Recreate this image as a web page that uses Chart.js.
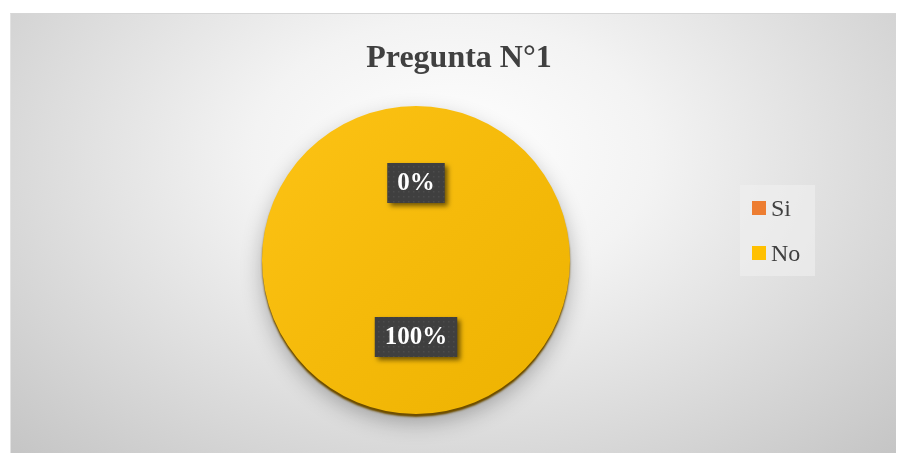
<!DOCTYPE html>
<html lang="es">
<head>
  <meta charset="UTF-8">
  <title>Pregunta N°1</title>
  <script src="https://cdn.jsdelivr.net/npm/chart.js"></script>
  <style>
    body {
      margin: 0;
      background-color: #ffffff;
      width: 897px;
      height: 453px;
      overflow: hidden;
      position: relative;
    }
    .chart-box {
      position: absolute;
      left: 10px;
      top: 13px;
      width: 886px;
      height: 440px;
      border-top: 1px solid #d6d6d6;
      border-left: 1px solid #e2e2e2;
      box-sizing: border-box;
      background: radial-gradient(ellipse at 50% 32%, #ffffff 0%, #f3f3f3 32%, #c5c5c5 100%);
    }
    canvas {
      position: absolute;
      left: 0;
      top: 0;
    }
  </style>
</head>
<body>
  <div class="chart-box">
    <canvas id="pieChart" width="886" height="440"></canvas>
  </div>

  <script>
    const TITLE = 'Pregunta N°1';
    const categories = ['Si', 'No'];
    const values = [0, 100];
    const colors = ['#ED7D31', '#FFC000'];

    const textColor = '#404040';
    const serif = "'Liberation Serif', 'Times New Roman', serif";

    // dotted dark fill used behind the data labels
    function makeDotPattern(ctx) {
      const c = document.createElement('canvas');
      c.width = 5;
      c.height = 5;
      const p = c.getContext('2d');
      p.fillStyle = '#3f3f3f';
      p.fillRect(0, 0, 5, 5);
      p.fillStyle = '#4c4c4c';
      p.fillRect(2, 2, 1.5, 1.5);
      return ctx.createPattern(c, 'repeat');
    }

    function sliceColor(context) {
      const i = context.dataIndex;
      const area = context.chart.chartArea;
      if (!area || i !== 1) return colors[i];
      const cx = (area.left + area.right) / 2;
      const r = Math.min(area.width, area.height) / 2;
      const g = context.chart.ctx.createLinearGradient(cx - r, area.top, cx + r, area.bottom);
      g.addColorStop(0, '#FDC315');
      g.addColorStop(0.5, '#F5BA0A');
      g.addColorStop(1, '#EDB200');
      return g;
    }

    const pieDecor = {
      id: 'pieDecor',
      beforeDatasetsDraw(chart) {
        const ctx = chart.ctx;
        const arc = chart.getDatasetMeta(0).data[1];
        // soft grey drop shadow under the whole pie
        ctx.save();
        ctx.shadowColor = 'rgba(0,0,0,0.3)';
        ctx.shadowBlur = 22;
        ctx.shadowOffsetY = 6;
        ctx.fillStyle = '#8a6600';
        ctx.beginPath();
        ctx.arc(arc.x, arc.y + 3, arc.outerRadius - 1, 0, Math.PI * 2);
        ctx.fill();
        ctx.restore();
        // darker rim at the bottom edge
        ctx.save();
        ctx.shadowColor = 'rgba(110,78,0,1)';
        ctx.shadowBlur = 2;
        ctx.shadowOffsetY = 3;
      },
      afterDatasetsDraw(chart) {
        const ctx = chart.ctx;
        ctx.restore();

        const total = values.reduce((a, b) => a + b, 0);
        const pattern = makeDotPattern(ctx);
        ctx.save();
        ctx.font = 'bold 25px ' + serif;
        ctx.textAlign = 'center';
        ctx.textBaseline = 'middle';
        chart.getDatasetMeta(0).data.forEach((el, i) => {
          const pos = el.getCenterPoint();
          const text = Math.round(values[i] / total * 100) + '%';
          const w = ctx.measureText(text).width + 20;
          const h = 40;
          ctx.save();
          ctx.shadowColor = 'rgba(0,0,0,0.55)';
          ctx.shadowBlur = 5;
          ctx.shadowOffsetX = 3;
          ctx.shadowOffsetY = 3;
          ctx.fillStyle = pattern;
          ctx.fillRect(pos.x - w / 2, pos.y - h / 2, w, h);
          ctx.restore();
          ctx.fillStyle = '#ffffff';
          ctx.fillText(text, pos.x, pos.y + 1);
        });
        ctx.restore();
      },
      afterDraw(chart) {
        const ctx = chart.ctx;
        ctx.save();
        // title
        ctx.fillStyle = textColor;
        ctx.font = 'bold 32px ' + serif;
        ctx.textAlign = 'center';
        ctx.textBaseline = 'alphabetic';
        ctx.fillText(TITLE, 448, 53);

        // legend
        const lx = 729, ly = 171;
        ctx.fillStyle = 'rgba(240,240,240,0.6)';
        ctx.fillRect(lx, ly, 75, 91);
        ctx.font = '24px ' + serif;
        ctx.textAlign = 'left';
        categories.forEach((name, i) => {
          const y = ly + 16 + i * 45;
          ctx.fillStyle = colors[i];
          ctx.fillRect(lx + 12, y, 14, 14);
          ctx.fillStyle = textColor;
          ctx.fillText(name, lx + 31, y + 15);
        });
        ctx.restore();
      }
    };

    new Chart(document.getElementById('pieChart'), {
      type: 'pie',
      data: {
        labels: categories,
        datasets: [{
          data: values,
          backgroundColor: sliceColor,
          borderWidth: 0
        }]
      },
      options: {
        responsive: false,
        animation: false,
        layout: {
          padding: { top: 92, bottom: 40, left: 198, right: 274 }
        },
        plugins: {
          legend: { display: false },
          title: { display: false },
          tooltip: { enabled: false }
        }
      },
      plugins: [pieDecor]
    });
  </script>
</body>
</html>
